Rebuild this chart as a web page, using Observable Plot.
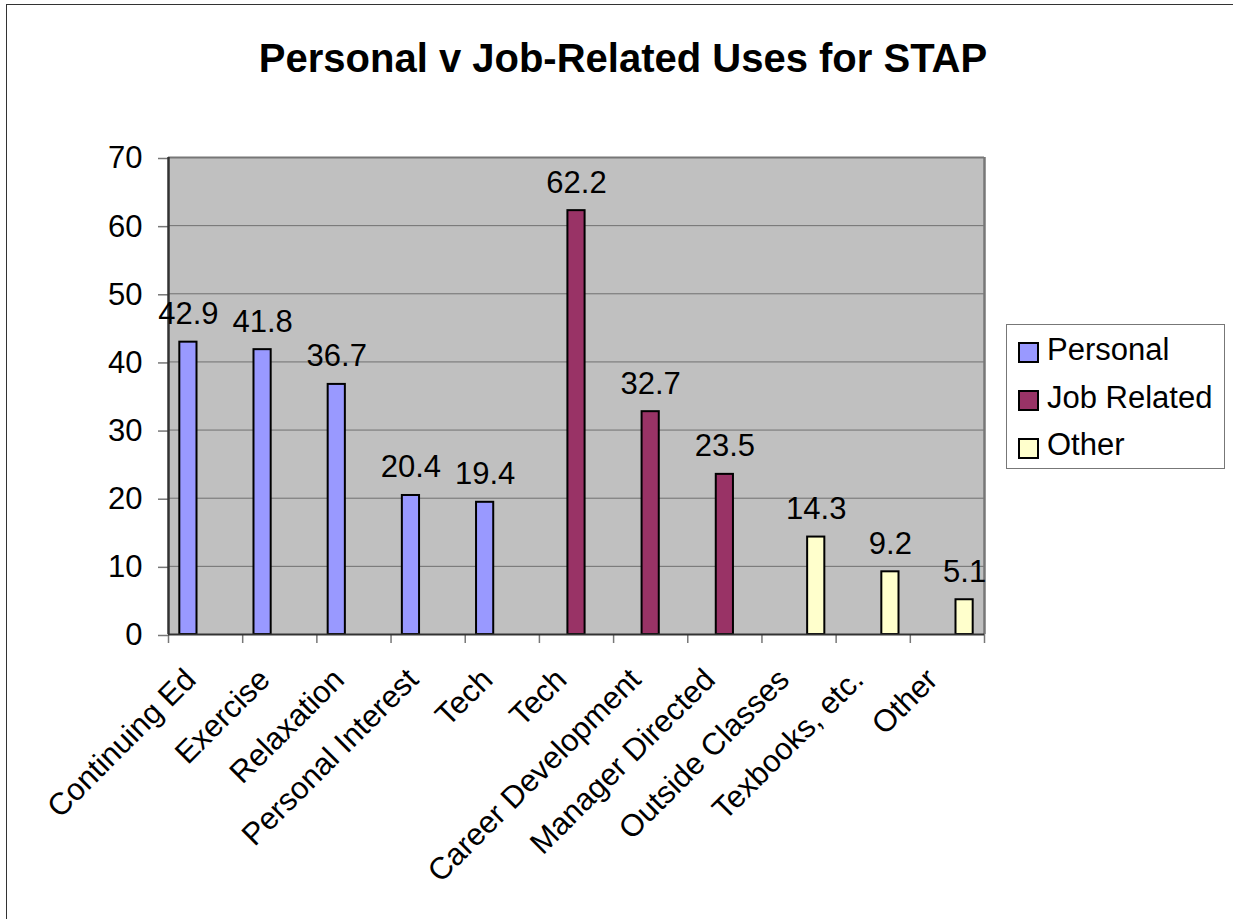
<!DOCTYPE html>
<html>
<head>
<meta charset="utf-8">
<script src="https://cdn.jsdelivr.net/npm/d3@7"></script>
<script src="https://cdn.jsdelivr.net/npm/@observablehq/plot@0.6"></script>
<style>
  html, body { margin: 0; padding: 0; background: white; overflow: hidden; }
  #wrap { position: relative; width: 1233px; height: 919px; font-family: "Liberation Sans", Arial, sans-serif; }
  #border { position: absolute; left: 6px; top: 4px; width: 1300px; height: 1000px; border-left: 1px solid #333; border-top: 1px solid #333; }
  #title { position: absolute; left: 0; top: 38px; width: 1246px; text-align: center; font-weight: bold; font-size: 40px; line-height: 40px; color: #000; }
  #chart { position: absolute; left: 0; top: 110px; }
  #legend { position: absolute; left: 1006px; top: 324px; width: 219px; height: 145px; border: 1px solid #777; background: white; box-sizing: border-box; }
  .item { position: absolute; left: 0; font-size: 31px; line-height: 31px; color: #000; white-space: nowrap; }
  .sw { position: absolute; width: 17px; height: 17px; border: 2px solid #000; }
</style>
</head>
<body>
<div id="wrap">
  <div id="border"></div>
  <div id="title">Personal v Job-Related Uses for STAP</div>
  <div id="chart"></div>
  <div id="legend"></div>
</div>
<script>
const categories = ["Continuing Ed", "Exercise", "Relaxation", "Personal Interest", "Tech", "Tech", "Career Development", "Manager Directed", "Outside Classes", "Texbooks, etc.", "Other"];
const seriesOfCategory = ["Personal", "Personal", "Personal", "Personal", "Personal", "Job Related", "Job Related", "Job Related", "Other", "Other", "Other"];
const values = [42.9, 41.8, 36.7, 20.4, 19.4, 62.2, 32.7, 23.5, 14.3, 9.2, 5.1];
const seriesNames = ["Personal", "Job Related", "Other"];
const seriesColors = ["#9999FF", "#993366", "#FFFFCC"];
const yTicks = [0, 10, 20, 30, 40, 50, 60, 70];

const rows = categories.map((c, i) => ({ i, category: c, series: seriesOfCategory[i], value: values[i] }));

const gap = 0.305;
const barW = (1 - gap) / 3;
const bx1 = d => d.i + gap / 2 + seriesNames.indexOf(d.series) * barW;
const bx2 = d => bx1(d) + barW;
const bxc = d => bx1(d) + barW / 2;

const FS = 31;

const chart = Plot.plot({
  width: 1233,
  height: 809,
  marginLeft: 168,
  marginRight: 249,
  marginTop: 47,
  marginBottom: 285,
  x: { type: "linear", domain: [0, categories.length], axis: null },
  y: { domain: [0, 70], axis: null },
  color: { domain: seriesNames, range: seriesColors },
  style: { fontFamily: "'Liberation Sans', Arial, sans-serif", fontSize: FS + "px", background: "transparent", overflow: "visible" },
  marks: [
    Plot.frame({ fill: "#C0C0C0", stroke: null }),
    Plot.gridY(yTicks, { stroke: "#707070", strokeOpacity: 1, strokeWidth: 1 }),
    Plot.axisY({ ticks: yTicks, tickSize: 10, tickPadding: 16, fontSize: FS, fill: "black", stroke: "#777", strokeWidth: 1.5, label: null, dy: 1 }),
    Plot.axisX({ ticks: d3.range(categories.length + 1), tickSize: 9, tickFormat: () => "", stroke: "#777", strokeWidth: 1.5, label: null }),
    Plot.ruleY([70], { stroke: "#777", strokeWidth: 2 }),
    Plot.ruleX([categories.length], { stroke: "#777", strokeWidth: 2.5 }),
    Plot.rectY(rows, { x1: bx1, x2: bx2, y1: 0, y2: "value", fill: "series", stroke: "black", strokeWidth: 2 }),
    Plot.ruleX([0], { stroke: "#333", strokeWidth: 2.5 }),
    Plot.ruleY([0], { stroke: "#333", strokeWidth: 2 }),
    Plot.text(rows, { x: bxc, y: "value", text: d => d.value.toFixed(1), dy: -18, lineAnchor: "bottom", fontSize: FS, fill: "black" }),
    Plot.text(rows, { x: d => d.i + 0.5, y: 0, text: "category", rotate: -45, textAnchor: "end", lineAnchor: "bottom", dx: -8, dy: 47, fontSize: FS, fill: "black" })
  ]
});
document.getElementById("chart").appendChild(chart);

const legend = document.getElementById("legend");
const baselines = [361, 409, 456.7];
seriesNames.forEach((name, k) => {
  const sw = document.createElement("div");
  sw.className = "sw";
  sw.style.background = seriesColors[k];
  sw.style.left = (1017 - 1006) + "px";
  sw.style.top = (baselines[k] - 20 - 324) + "px";
  legend.appendChild(sw);
  const t = document.createElement("div");
  t.className = "item";
  t.textContent = name;
  t.style.left = (1046 - 1006) + "px";
  t.style.top = (baselines[k] - 28.3 - 324) + "px";
  legend.appendChild(t);
});
</script>
</body>
</html>
